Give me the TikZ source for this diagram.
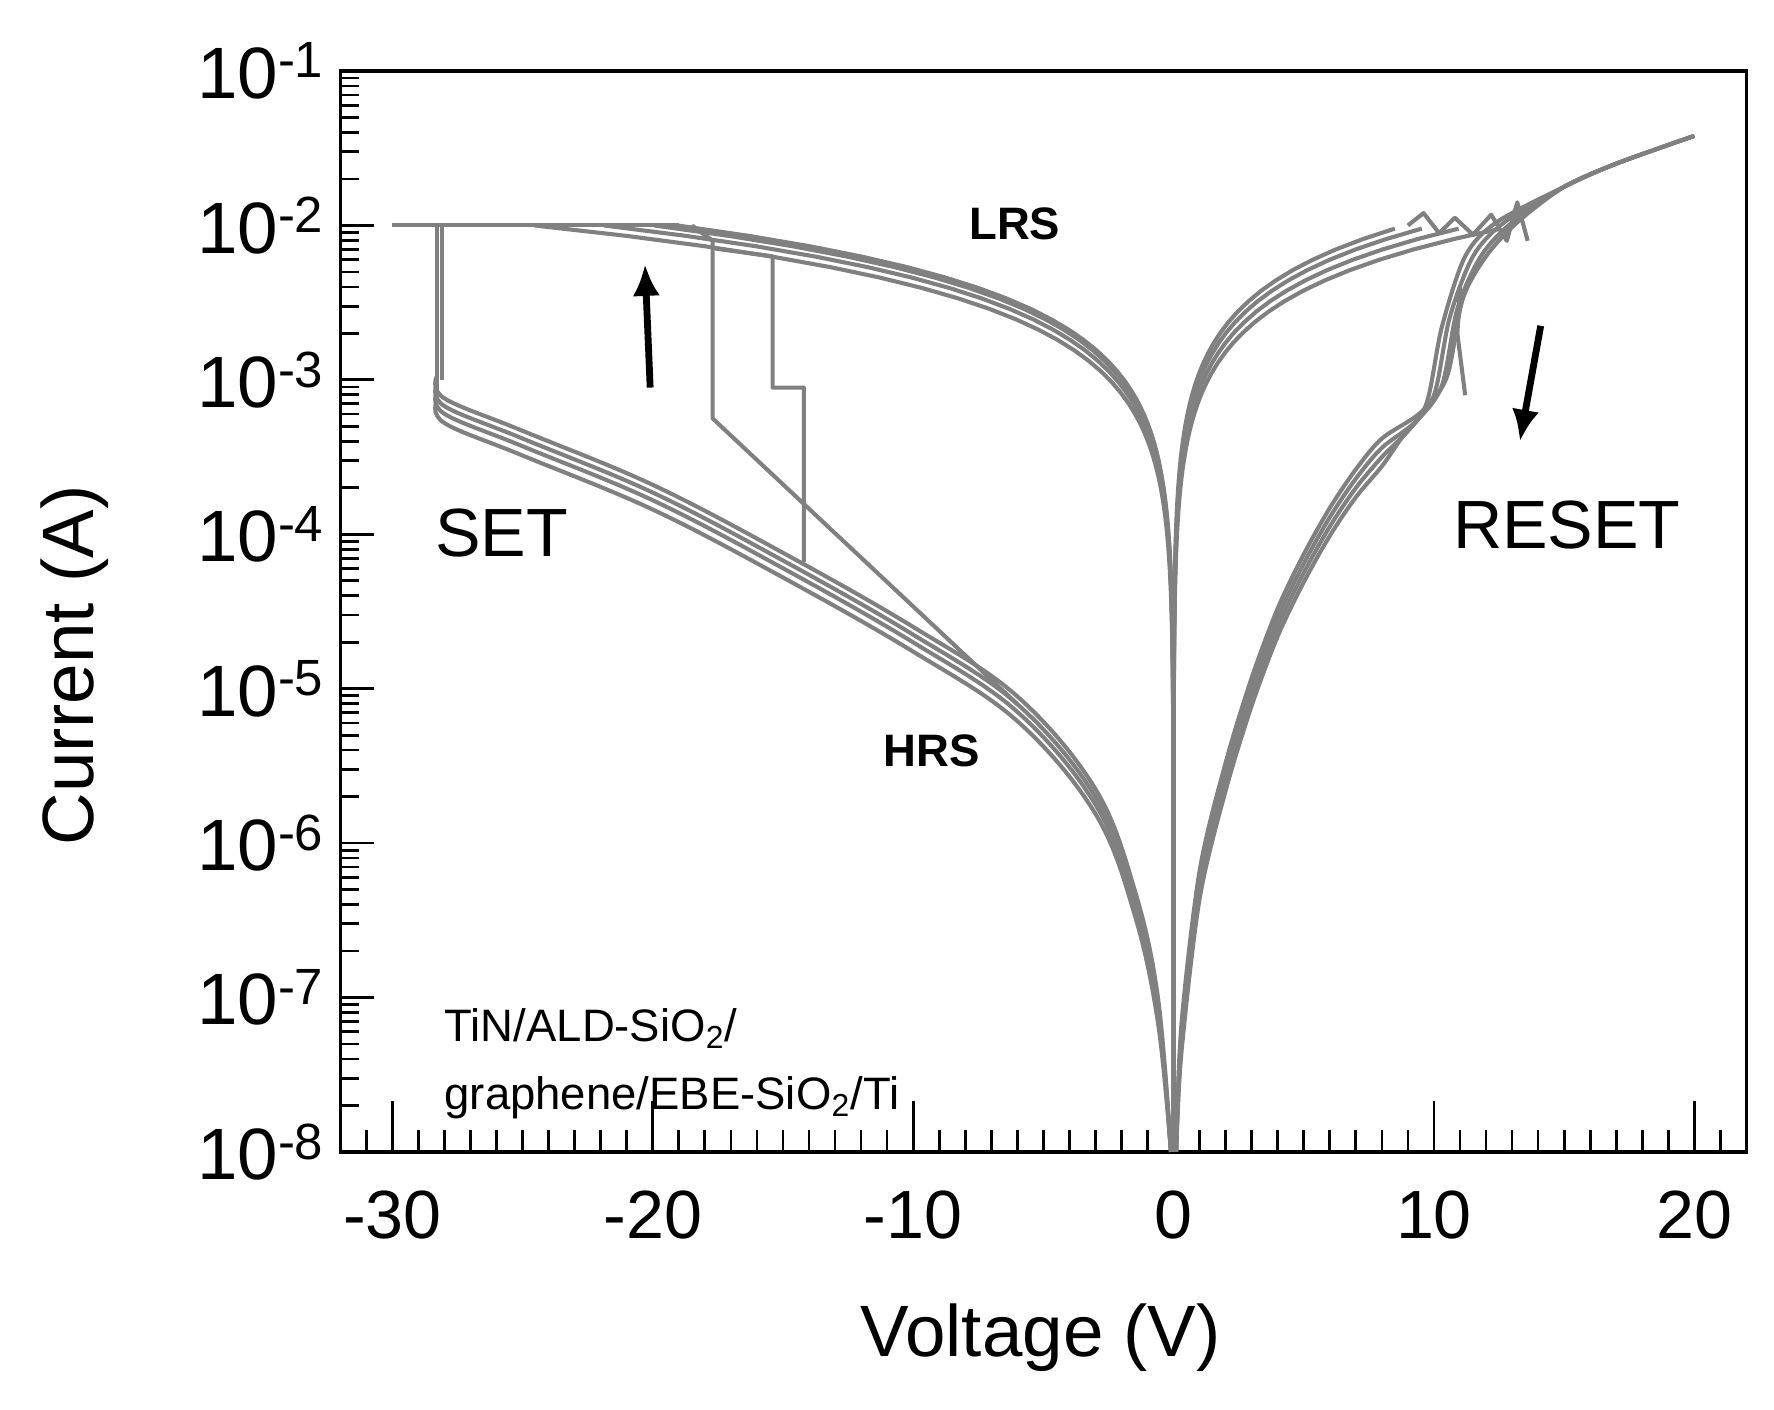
\documentclass[tikz,border=0pt]{standalone}
\usepackage{fontspec}
\setmainfont{Liberation Sans}
\usetikzlibrary{arrows.meta}
\begin{document}
\begin{tikzpicture}[x=11.45pt,y=67.9pt,
  tk/.style={line width=1.2pt},
  ylab/.style={font=\fontsize{32}{36}\selectfont,anchor=east},
  xlab/.style={font=\fontsize{30}{34}\selectfont,anchor=north}]
\useasboundingbox (-45.07,-9.67) rectangle (23.06,-0.54);
\definecolor{cg}{RGB}{128,128,128}
\tikzset{curve/.style={draw=cg,line width=1.8pt,line join=round}}
% frame
\draw[line width=1.4pt] (-32,-8) rectangle (22,-1);
% x ticks
\foreach \v in {-31,...,21}{\draw[tk] (\v,-8) -- ++(0,0.14);}
\foreach \v in {-30,-20,...,20}{\draw[tk] (\v,-8) -- ++(0,0.33);}
% y ticks
\foreach \d in {-8,...,-2}{
  \draw[tk] (-32,\d) -- ++(1.3,0);
  \foreach \m in {2,...,9}{\draw[tk] (-32,{\d+log10(\m)}) -- ++(0.7,0);}
}
% y labels
\foreach \e/\d in {-1/-1,-2/-2,-3/-3,-4/-4,-5/-5,-6/-6,-7/-7,-8/-8}
  \node[ylab] at (-32.3,\d) {10\textsuperscript{\e}};
\foreach \v in {-30,-20,-10,0,10,20}
  \node[xlab] at (\v,-8.2) {\v};
\node[font=\fontsize{32}{36}\selectfont] (xl) at (-5.1,-9.2) {Voltage (V)};
\node[font=\fontsize{32}{36}\selectfont,rotate=90] (yl) at (-42.2,-4.85) {Current (A)};
% LRS negative
\foreach \c in {-3.28,-3.30,-3.34,-3.39}{
  \draw[curve] plot[variable=\t,domain={-8-\c}:{-2-\c},samples=90] ({-10^\t},{\t+\c});
}
\draw[curve] (-30,-2) -- (-19,-2);
% LRS positive
\foreach \c in {-2.95,-3.0,-3.06,-3.12}{
  \draw[curve] plot[variable=\t,domain={-8-\c}:{-2.02-\c},samples=90] ({10^\t},{\t+\c});
}
\draw[curve] (9,-2.0) -- (9.6,-1.92) -- (10.2,-2.05) -- (10.8,-1.95) -- (11.5,-2.06) -- (12.2,-1.93) -- (12.8,-2.1) -- (13.2,-1.85) -- (13.6,-2.1);
% HRS negative
\foreach \o in {0,0.05,-0.06,0.1}{
\draw[curve] plot[smooth,tension=0.6] coordinates {(-28.3,{-3.08+\o}) (-28,{-3.22+\o}) (-25,{-3.43+\o}) (-20,{-3.78+\o}) (-15,{-4.22+\o}) (-10,{-4.7+\o}) (-6,{-5.15+\o}) (-3,{-5.75+\o}) (-1.5,{-6.4+\o}) (-0.6,{-7.1+\o}) (-0.1,-8)};
}
\draw[curve] (-28.3,-2) -- (-28.3,-3.12);
\draw[curve] (-28.1,-2) -- (-28.1,-3.0);
\draw[curve] (-18.5,-2) -- (-17.7,-2.1) -- (-17.7,-3.25) -- (-6,-5.1);
\draw[curve] (-17.6,-2.15) -- (-15.4,-2.2) -- (-15.4,-3.05) -- (-14.2,-3.05) -- (-14.2,-4.18);
% HRS positive / reset
\foreach \o/\s in {0/0,0.06/0.3,-0.06/-0.3,0.12/0.5}{
\draw[curve] plot[smooth,tension=0.5] coordinates {(0.1,-8) (0.3,{-7.3+\o}) (1,{-6.3+\o}) (2,{-5.6+\o}) (3,{-5.05+\o}) (4,{-4.6+\o}) (5,{-4.25+\o}) (6,{-3.95+\o}) (7,{-3.7+\o}) (8,{-3.5+\o}) ({9+\s},{-3.33+\o}) ({10+\s},{-3.1+\o}) ({10.6+\s},{-2.6+\o}) ({11.5+\s},{-2.2}) ({12.7+\s},{-1.98}) (15,-1.75) (17,-1.6) (20,-1.42)};
}
\draw[curve] (11.2,-3.1) -- (10.9,-2.7) -- (11,-2.4);
% arrows
\draw[line width=3pt,-{Latex[length=14pt,width=12pt]}] (-20.1,-3.05) -- (-20.3,-2.25);
\draw[line width=3pt,-{Latex[length=14pt,width=12pt]}] (14.1,-2.65) -- (13.3,-3.4);
% labels
\node[font=\bfseries\fontsize{20}{24}\selectfont] (lrs) at (-6.1,-1.99) {LRS};
\node[font=\bfseries\fontsize{20}{24}\selectfont] (hrs) at (-9.3,-5.4) {HRS};
\node[font=\fontsize{30}{34}\selectfont] (set) at (-25.8,-3.99) {SET};
\node[font=\fontsize{30}{34}\selectfont] (reset) at (15.1,-3.94) {RESET};
\node[font=\fontsize{20}{24}\selectfont,align=left,anchor=west] (mat) at (-28.3,-7.43)
 {TiN/ALD-SiO\textsubscript{2}/\\[6pt]graphene/EBE-SiO\textsubscript{2}/Ti};
\end{tikzpicture}
\end{document}
